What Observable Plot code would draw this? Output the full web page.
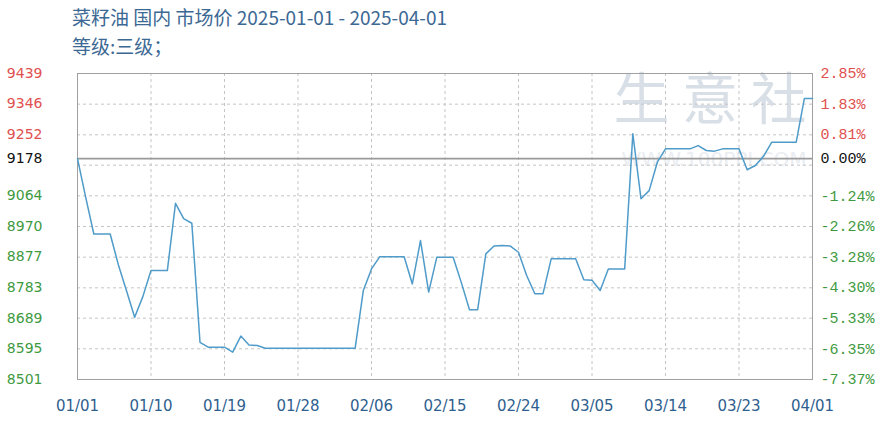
<!DOCTYPE html>
<html>
<head>
<meta charset="utf-8">
<script src="https://cdn.jsdelivr.net/npm/d3@7"></script>
<script src="https://cdn.jsdelivr.net/npm/@observablehq/plot@0.6"></script>
<style>
  body { margin: 0; background: #fff; }
  #wrap { position: relative; width: 887px; height: 424px; overflow: hidden; }
  .t { position: absolute; left: 72px; font-family: "Noto Sans CJK SC", "DejaVu Sans", sans-serif; font-size: 19px; color: #3c6894; white-space: nowrap; line-height: 22px; }
  #chart { position: absolute; left: 0; top: 62px; }
  .rax text { font-family: "Liberation Mono", "DejaVu Sans Mono", monospace !important; }
</style>
</head>
<body>
<div id="wrap">
  <div class="t" id="t1" style="top:6px"></div>
  <div class="t" id="t2" style="top:35px"></div>
  <div id="chart"></div>
</div>
<script>
const titleText = "菜籽油 国内 市场价 2025-01-01 - 2025-04-01";
const subtitleText = "等级:三级；";
const startDate = "2025-01-01";
const endDate = "2025-04-01";
const baseValue = 9178;
// daily prices, 2025-01-01 .. 2025-04-01
const values = [
  9178, 9060, 8947, 8947, 8947, 8853, 8773, 8692, 8755, 8835,
  8835, 8835, 9041, 8994, 8980, 8615, 8600, 8600, 8600, 8585,
  8634, 8607, 8605, 8597, 8597, 8597, 8597, 8597, 8597, 8597,
  8597, 8597, 8597, 8597, 8597, 8774, 8840, 8877, 8877, 8877,
  8877, 8794, 8927, 8769, 8876, 8876, 8876, 8798, 8715, 8715,
  8886, 8910, 8912, 8910, 8891, 8820, 8764, 8764, 8871, 8871,
  8871, 8871, 8807, 8805, 8774, 8840, 8840, 8840, 9254, 9055,
  9080, 9167, 9208, 9208, 9208, 9208, 9218, 9203, 9201, 9208,
  9208, 9208, 9144, 9157, 9185, 9228, 9228, 9228, 9228, 9362,
  9362
];
const upTicks = [9439, 9346, 9252];
const baseTicks = [9178];
const downTicks = [9064, 8970, 8877, 8783, 8689, 8595, 8501];
const upPct = ["2.85%", "1.83%", "0.81%"];
const basePct = ["0.00%"];
const downPct = ["-1.24%", "-2.26%", "-3.28%", "-4.30%", "-5.33%", "-6.35%", "-7.37%"];
const gridTicks = [9439, 9345, 9251, 9158, 9064, 8970, 8876, 8782, 8689, 8595, 8501];
const xTickLabels = ["01/01", "01/10", "01/19", "01/28", "02/06", "02/15", "02/24", "03/05", "03/14", "03/23", "04/01"];

document.getElementById("t1").textContent = titleText;
document.getElementById("t2").textContent = subtitleText;

const start = new Date(startDate + "T00:00:00Z");
const end = new Date(endDate + "T00:00:00Z");
const data = values.map((v, i) => ({ date: d3.utcDay.offset(start, i), value: v }));
const xTicks = xTickLabels.map(s => {
  const [m, d] = s.split("/").map(Number);
  return new Date(Date.UTC(2025, m - 1, d));
});
const fmtX = d3.utcFormat("%m/%d");

const RED = "#e0504f", GREEN = "#3f9a3f", BLACK = "#111";
const leftFont = { fontSize: 14, fontFamily: "'DejaVu Sans', sans-serif" };
const rightFont = { fontSize: 15, fontFamily: "'Liberation Mono', monospace" };

function leftAxis(ticks, color) {
  return Plot.axisY(ticks, { anchor: "left", label: null, tickSize: 0, tickPadding: 35, tickFormat: d => String(d), fill: color, ...leftFont });
}
function rightAxis(ticks, labels, color) {
  const m = new Map(ticks.map((t, i) => [t, labels[i]]));
  return Plot.axisY(ticks, { anchor: "right", label: null, tickSize: 0, tickPadding: 8, tickFormat: d => m.get(d), fill: color, className: "rax", ...rightFont });
}

const chart = Plot.plot({
  width: 887,
  height: 362,
  marginTop: 11,
  marginBottom: 45,
  marginLeft: 77,
  marginRight: 75,
  style: { background: "transparent", overflow: "visible" },
  x: { type: "utc", domain: [start, end], label: null },
  y: { domain: [8501, 9439], label: null },
  marks: [
    Plot.text(["生 意 社"], { frameAnchor: "top-right", textAnchor: "end", lineAnchor: "top", dx: -6, dy: 6, fontSize: 56, fill: "#d9dfe7", fontFamily: "'Noto Sans CJK SC'" }),
    Plot.text(["WWW.100PPI.COM"], { frameAnchor: "top-right", textAnchor: "end", lineAnchor: "top", dx: -6, dy: 78, fontSize: 20, fill: "#eaedf1", fontFamily: "'DejaVu Sans'" }),
    Plot.gridY(gridTicks, { stroke: "#c4c4c4", strokeOpacity: 1, strokeDasharray: "3,3" }),
    Plot.gridX(xTicks, { stroke: "#c4c4c4", strokeOpacity: 1, strokeDasharray: "3,3" }),
    Plot.ruleY([baseValue], { stroke: "#9a9a9a", strokeWidth: 1.6 }),
    Plot.frame({ stroke: "#a0a0a0" }),
    Plot.line(data, { x: "date", y: "value", stroke: "#4f9bc9", strokeWidth: 1.5 }),
    leftAxis(upTicks, RED),
    leftAxis(baseTicks, BLACK),
    leftAxis(downTicks, GREEN),
    rightAxis(upTicks, upPct, RED),
    rightAxis(baseTicks, basePct, BLACK),
    rightAxis(downTicks, downPct, GREEN),
    Plot.axisX(xTicks, { label: null, tickSize: 0, tickPadding: 21, tickFormat: fmtX, fill: "#2f5f8f", fontSize: 15, fontFamily: "'DejaVu Sans', sans-serif" })
  ]
});
document.getElementById("chart").appendChild(chart);
</script>
</body>
</html>
